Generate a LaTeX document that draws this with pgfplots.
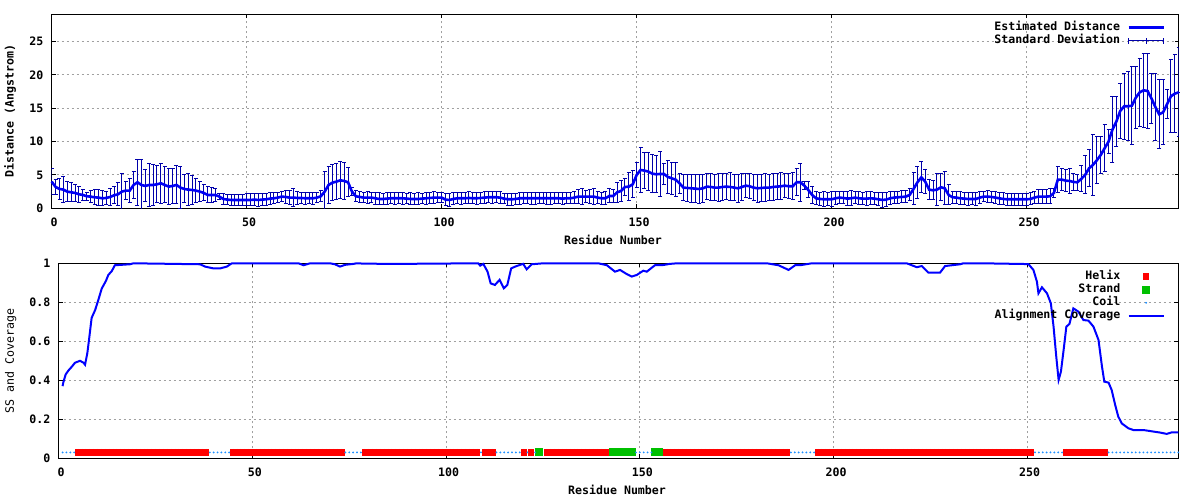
\documentclass[border=0pt]{standalone}
\usepackage{fontspec}
\setmainfont{DejaVu Sans Mono}
\usepackage{pgfplots}
\usepackage{pgfplotstable}
\pgfplotsset{compat=1.18}
\definecolor{meanblue}{RGB}{0,0,245}
\definecolor{errnavy}{RGB}{0,0,170}
\definecolor{covblue}{RGB}{0,0,255}
\definecolor{helixred}{RGB}{255,0,0}
\definecolor{strandgreen}{RGB}{0,192,0}
\definecolor{coilblue}{RGB}{30,144,255}
\definecolor{gridgray}{RGB}{160,160,160}
\newcommand{\gfont}{\bfseries\fontsize{11.6}{13}\selectfont}
\newcommand{\gfontr}{\fontsize{11.6}{13}\selectfont}

\pgfplotstableread{
x m e
0 4.0 2.0
1 3.2 1.1
2 2.9 1.6
3 2.8 1.95
4 2.5 1.5
5 2.4 1.45
6 2.3 1.3
7 2.1 1.2
8 2.0 0.8
9 1.8 0.6
10 1.75 0.85
11 1.65 1.1
12 1.6 1.15
13 1.5 1.1
14 1.55 0.95
15 1.7 1.3
16 1.95 1.3
17 2.1 1.75
18 2.5 2.75
19 2.65 1.35
20 2.65 1.85
21 3.5 2.0
22 3.9 3.45
23 3.5 3.75
24 3.35 2.4
25 3.5 3.25
26 3.5 3.1
27 3.6 2.8
28 3.75 3.0
29 3.5 2.7
30 3.25 2.65
31 3.35 2.65
32 3.5 2.85
33 3.1 3.15
34 2.9 2.1
35 2.8 2.45
36 2.75 2.15
37 2.65 1.85
38 2.5 1.5
39 2.3 1.2
40 2.0 1.2
41 2.0 1.15
42 2.0 1.0
43 1.75 0.5
44 1.4 0.85
45 1.3 0.8
46 1.25 0.85
47 1.25 0.85
48 1.25 0.85
49 1.25 0.85
50 1.25 0.9
51 1.25 0.9
52 1.3 0.85
53 1.25 0.95
54 1.3 0.9
55 1.35 0.9
56 1.45 0.9
57 1.5 0.8
58 1.6 0.8
59 1.75 0.7
60 1.7 1.0
61 1.6 1.1
62 1.6 1.3
63 1.55 1.0
64 1.55 0.8
65 1.5 0.9
66 1.5 0.8
67 1.5 0.9
68 1.6 0.8
69 1.8 0.8
70 2.5 3.0
71 3.5 2.8
72 3.85 2.65
73 4.0 2.75
74 4.2 2.8
75 4.1 2.75
76 3.9 2.2
77 2.5 0.6
78 1.8 0.8
79 1.7 0.8
80 1.6 0.8
81 1.6 0.9
82 1.6 0.8
83 1.5 0.9
84 1.4 0.9
85 1.4 0.8
86 1.45 0.9
87 1.5 0.8
88 1.5 0.9
89 1.5 0.8
90 1.5 0.9
91 1.45 0.8
92 1.4 0.9
93 1.4 0.8
94 1.4 0.9
95 1.45 0.8
96 1.5 0.9
97 1.55 0.8
98 1.6 0.9
99 1.6 0.8
100 1.6 0.8
101 1.3 0.9
102 1.25 0.95
103 1.4 0.9
104 1.5 0.8
105 1.5 0.9
106 1.5 0.85
107 1.55 0.9
108 1.5 0.8
109 1.5 0.9
110 1.55 0.85
111 1.6 0.9
112 1.65 0.8
113 1.65 0.9
114 1.65 0.8
115 1.6 0.9
116 1.45 0.8
117 1.35 0.9
118 1.35 0.9
119 1.4 0.8
120 1.5 0.9
121 1.5 0.85
122 1.5 0.8
123 1.5 0.9
124 1.5 0.9
125 1.5 0.85
126 1.5 0.8
127 1.5 0.9
128 1.5 0.9
129 1.5 0.8
130 1.5 0.85
131 1.45 0.9
132 1.5 0.8
133 1.5 0.85
134 1.6 0.9
135 1.75 1.0
136 1.75 1.15
137 1.75 0.9
138 1.75 1.0
139 1.75 1.25
140 1.6 0.9
141 1.5 0.9
142 1.5 1.0
143 1.85 1.05
144 1.85 1.0
145 2.4 1.5
146 2.6 1.6
147 3.2 1.3
148 3.25 2.1
149 3.6 2.0
150 5.0 1.85
151 5.75 3.4
152 5.65 2.75
153 5.5 2.9
154 5.2 2.9
155 5.1 2.8
156 5.15 3.35
157 5.15 1.6
158 4.7 2.45
159 4.5 2.4
160 4.3 2.6
161 3.75 1.5
162 3.1 2.0
163 3.05 2.0
164 3.0 2.1
165 2.95 2.1
166 2.9 2.2
167 3.0 2.1
168 3.25 2.0
169 3.2 2.0
170 3.1 2.0
171 3.1 2.1
172 3.2 2.0
173 3.25 2.0
174 3.2 2.1
175 3.1 2.0
176 3.0 2.1
177 3.2 2.0
178 3.4 1.8
179 3.3 1.9
180 3.1 2.0
181 3.0 2.1
182 3.05 2.0
183 3.1 2.1
184 3.1 2.0
185 3.2 2.0
186 3.25 1.9
187 3.3 2.0
188 3.4 1.8
189 3.3 1.9
190 3.3 2.0
191 3.9 2.0
192 3.9 2.85
193 3.4 0.6
194 2.75 1.2
195 2.0 1.3
196 1.5 1.0
197 1.4 1.0
198 1.35 1.1
199 1.35 1.0
200 1.35 1.1
201 1.5 1.0
202 1.6 0.9
203 1.55 0.9
204 1.45 1.0
205 1.5 1.1
206 1.6 0.9
207 1.5 1.0
208 1.45 0.9
209 1.45 1.0
210 1.5 1.0
211 1.45 0.9
212 1.35 1.0
213 1.25 1.1
214 1.3 1.0
215 1.5 1.0
216 1.6 0.9
217 1.65 0.9
218 1.7 0.9
219 1.75 0.9
220 2.0 0.9
221 2.9 2.4
222 3.9 2.4
223 4.65 2.35
224 4.0 1.85
225 2.8 1.45
226 2.7 1.4
227 2.8 2.35
228 3.15 2.0
229 3.0 2.5
230 2.0 1.5
231 1.65 0.9
232 1.6 0.9
233 1.5 1.0
234 1.45 0.9
235 1.4 1.0
236 1.4 0.9
237 1.4 1.0
238 1.6 0.9
239 1.75 0.8
240 1.75 0.9
241 1.7 0.8
242 1.6 0.9
243 1.5 0.9
244 1.4 0.9
245 1.35 0.9
246 1.35 0.9
247 1.35 0.9
248 1.35 0.9
249 1.35 0.9
250 1.35 0.9
251 1.4 0.9
252 1.6 0.9
253 1.75 1.0
254 1.75 1.0
255 1.75 1.1
256 1.8 1.1
257 2.3 0.7
258 4.3 1.9
259 4.3 1.6
260 4.15 1.7
261 4.1 1.9
262 3.95 1.3
263 3.9 1.2
264 4.4 1.95
265 5.0 2.85
266 6.0 2.75
267 6.5 4.6
268 7.2 3.5
269 8.0 2.75
270 9.0 3.5
271 10.0 1.75
272 11.8 4.95
273 13.0 3.75
274 14.6 4.15
275 15.3 4.95
276 15.3 5.2
277 15.4 5.85
278 16.6 4.65
279 17.4 5.1
280 17.7 5.55
281 17.6 5.65
282 16.5 3.75
283 15.2 5.05
284 14.1 5.15
285 14.4 4.85
286 15.6 2.15
287 16.8 5.45
288 17.2 5.8
289 17.4 6.7
}\distdata

\pgfplotstableread{
x c
1 0.37
1.2 0.39
1.8 0.43
2.5 0.45
3.4 0.47
4.2 0.49
5.5 0.50
6.4 0.49
6.8 0.48
7.4 0.54
7.9 0.62
8.5 0.72
9.4 0.76
10.2 0.81
11.1 0.87
12.2 0.91
12.8 0.94
13.7 0.96
14.5 0.99
18.4 0.995
19.3 1.0
36.5 0.995
37.8 0.983
39.9 0.974
41.7 0.974
43.4 0.983
44.7 1.0
61.9 1.0
63.2 0.99
64.9 1.0
70 1.0
71.3 0.995
72.6 0.983
73.9 0.992
76.1 0.997
76.9 1.0
79.1 0.998
88 0.997
108.3 1.0
108.8 0.988
109.6 0.997
110.7 0.957
111.5 0.897
112.6 0.889
113.8 0.915
114.9 0.872
115.8 0.889
116.8 0.974
118.2 0.986
119.9 0.997
120.8 0.969
122.1 0.995
125.1 1.0
139.3 1.0
141.5 0.99
143.6 0.957
144.9 0.966
146.6 0.945
147.9 0.932
149.2 0.94
150.9 0.962
151.8 0.957
153.9 0.99
155.7 0.99
157.8 0.997
159.6 1.0
182.8 1.0
185.8 0.99
188.4 0.966
190.1 0.99
191.4 0.99
194.4 1.0
218.9 1.0
220.2 0.99
221.5 0.98
222.8 0.986
224.5 0.952
227.5 0.952
228.8 0.986
232.7 0.995
233.5 1.0
238.3 1.0
250.3 0.996
251.6 0.966
252.5 0.906
252.9 0.846
253.8 0.877
255.1 0.846
256.1 0.795
256.8 0.675
257.5 0.521
258.1 0.402
258.7 0.444
259.4 0.556
260.1 0.675
260.9 0.689
261.9 0.769
263.2 0.752
264.5 0.709
265.8 0.706
267.1 0.675
268.4 0.607
269.3 0.470
269.9 0.393
271 0.388
271.8 0.350
272.7 0.274
273.5 0.214
274.4 0.179
276.1 0.154
277.4 0.145
280 0.145
282.6 0.137
284.3 0.132
286 0.125
287.3 0.133
289 0.133
}\covdata

\pgfplotstableread[row sep=\\]{x y\\
5 .03\\6 .03\\7 .03\\8 .03\\9 .03\\10 .03\\11 .03\\12 .03\\13 .03\\14 .03\\15 .03\\16 .03\\17 .03\\18 .03\\19 .03\\20 .03\\21 .03\\
22 .03\\23 .03\\24 .03\\25 .03\\26 .03\\27 .03\\28 .03\\29 .03\\30 .03\\31 .03\\32 .03\\33 .03\\34 .03\\35 .03\\36 .03\\37 .03\\38 .03\\
45 .03\\46 .03\\47 .03\\48 .03\\49 .03\\50 .03\\51 .03\\52 .03\\53 .03\\54 .03\\55 .03\\56 .03\\57 .03\\58 .03\\59 .03\\
60 .03\\61 .03\\62 .03\\63 .03\\64 .03\\65 .03\\66 .03\\67 .03\\68 .03\\69 .03\\70 .03\\71 .03\\72 .03\\73 .03\\
79 .03\\80 .03\\81 .03\\82 .03\\83 .03\\84 .03\\85 .03\\86 .03\\87 .03\\88 .03\\89 .03\\90 .03\\91 .03\\92 .03\\93 .03\\
94 .03\\95 .03\\96 .03\\97 .03\\98 .03\\99 .03\\100 .03\\101 .03\\102 .03\\103 .03\\104 .03\\105 .03\\106 .03\\107 .03\\108 .03\\
110 .03\\111 .03\\112 .03\\120 .03\\122 .03\\
126 .03\\127 .03\\128 .03\\129 .03\\130 .03\\131 .03\\132 .03\\133 .03\\134 .03\\135 .03\\136 .03\\137 .03\\138 .03\\139 .03\\140 .03\\141 .03\\142 .03\\
156 .03\\157 .03\\158 .03\\159 .03\\160 .03\\161 .03\\162 .03\\163 .03\\164 .03\\165 .03\\166 .03\\167 .03\\168 .03\\169 .03\\170 .03\\171 .03\\172 .03\\
173 .03\\174 .03\\175 .03\\176 .03\\177 .03\\178 .03\\179 .03\\180 .03\\181 .03\\182 .03\\183 .03\\184 .03\\185 .03\\186 .03\\187 .03\\188 .03\\
196 .03\\197 .03\\198 .03\\199 .03\\200 .03\\201 .03\\202 .03\\203 .03\\204 .03\\205 .03\\206 .03\\207 .03\\208 .03\\209 .03\\210 .03\\
211 .03\\212 .03\\213 .03\\214 .03\\215 .03\\216 .03\\217 .03\\218 .03\\219 .03\\220 .03\\221 .03\\222 .03\\223 .03\\224 .03\\225 .03\\
226 .03\\227 .03\\228 .03\\229 .03\\230 .03\\231 .03\\232 .03\\233 .03\\234 .03\\235 .03\\236 .03\\237 .03\\238 .03\\239 .03\\240 .03\\
241 .03\\242 .03\\243 .03\\244 .03\\245 .03\\246 .03\\247 .03\\248 .03\\249 .03\\250 .03\\251 .03\\
260 .03\\261 .03\\262 .03\\263 .03\\264 .03\\265 .03\\266 .03\\267 .03\\268 .03\\269 .03\\270 .03\\
}\helixdata

\pgfplotstableread[row sep=\\]{x y\\
124 .03\\143 .03\\144 .03\\145 .03\\146 .03\\147 .03\\148 .03\\154 .03\\155 .03\\
}\stranddata

\pgfplotstableread[row sep=\\]{x y\\
1 .03\\2 .03\\3 .03\\4 .03\\39 .03\\40 .03\\41 .03\\42 .03\\43 .03\\44 .03\\
74 .03\\75 .03\\76 .03\\77 .03\\78 .03\\109 .03\\113 .03\\114 .03\\115 .03\\116 .03\\117 .03\\118 .03\\119 .03\\121 .03\\123 .03\\
149 .03\\150 .03\\151 .03\\152 .03\\153 .03\\189 .03\\190 .03\\191 .03\\192 .03\\193 .03\\194 .03\\195 .03\\
252 .03\\253 .03\\254 .03\\255 .03\\256 .03\\257 .03\\258 .03\\259 .03\\
271 .03\\272 .03\\273 .03\\274 .03\\275 .03\\276 .03\\277 .03\\278 .03\\279 .03\\280 .03\\
281 .03\\282 .03\\283 .03\\284 .03\\285 .03\\286 .03\\287 .03\\288 .03\\289 .03\\
}\coildata

\pgfplotsset{
  gnustyle/.style={
    scale only axis,
    axis line style={black, line width=1pt},
    tick align=inside,
    major tick length=4pt,
    every tick/.style={black, line width=1pt},
    grid=major,
    major grid style={gridgray, line width=1pt, dash pattern=on 2pt off 3pt},
    /pgf/number format/assume math mode=true,
    tick label style={font=\gfont, inner sep=0pt},
    xticklabel style={anchor=base, yshift=-18pt, xshift=2.5pt},
    yticklabel style={anchor=base east, xshift=-8.2pt, yshift=-4.3pt},
    label style={font=\gfont},
    legend style={draw=none, fill=none, font=\gfont,
      at={(rel axis cs:1,1)}, anchor=north east, xshift=-13.7pt, yshift=-7pt,
      inner sep=0pt, outer sep=0pt, row sep=0pt, column sep=7.3pt,
      nodes={inner sep=0pt, text height=9pt, text depth=4pt}},
    legend cell align=right,
    legend plot pos=right,
  },
  linelegend/.style={legend image code/.code={\draw[##1, mark=none] (0pt,0pt) -- (35pt,0pt);}},
  marklegend/.style={legend image code/.code={\path[draw=none, fill=none] (0pt,0pt) -- (35pt,0pt); \draw[##1, only marks] plot coordinates {(17.5pt,0pt)};}},
}

\begin{document}
\begin{tikzpicture}
\path[draw=none, fill=none] (0pt,0pt) rectangle (1200pt,500pt);
\coordinate (topSW) at (51.7pt,291.7pt);
\coordinate (botSW) at (58.7pt,41.7pt);

\begin{axis}[gnustyle,
  at={(topSW)}, anchor=south west,
  width=1127pt, height=194pt,
  xmin=0, xmax=289, ymin=0, ymax=29.1,
  xtick={0,50,100,150,200,250}, ytick={0,5,10,15,20,25},
  xlabel={Residue Number}, ylabel={Distance (Angstrom)},
  xlabel style={at={(axis description cs:0.498,-0.163)}, anchor=center},
  ylabel style={at={(axis description cs:-0.037,0.5)}, anchor=center},
  reverse legend, set layers,
  every error bar/.style={color=errnavy, line width=1pt},
]
\addplot[color=errnavy, line width=1pt, only marks, mark=-, mark size=1pt,
  mark options={color=errnavy, line width=1pt},
  error bars/.cd, y dir=both, y explicit, error mark=-,
  error bar style={color=errnavy, line width=1pt},
  error mark options={rotate=90, color=errnavy, mark size=2pt, line width=1pt},
  /pgfplots/legend image code/.code={\draw[errnavy, line width=1pt] (0pt,0pt) -- (35pt,0pt) (0pt,-3pt) -- (0pt,3pt) (17.5pt,-3pt) -- (17.5pt,3pt) (35pt,-3pt) -- (35pt,3pt);}]
  table[x=x, y=m, y error=e]{\distdata};
\addlegendentry{Standard Deviation}
\addplot[meanblue, line width=2.6pt, linelegend, on layer=axis foreground] table[x=x, y=m]{\distdata};
\addlegendentry{Estimated Distance}
\end{axis}

\begin{axis}[gnustyle,
  at={(botSW)}, anchor=south west,
  width=1119.6pt, height=195pt,
  xmin=0, xmax=289, ymin=0, ymax=1, clip=false,
  xtick={0,50,100,150,200,250}, ytick={0,0.2,0.4,0.6,0.8,1},
  xlabel={Residue Number}, ylabel={SS and Coverage},
  xlabel style={at={(axis description cs:0.4987,-0.1626)}, anchor=center},
  ylabel style={at={(axis description cs:-0.0429,0.5)}, anchor=center, font=\gfontr},
]
\addplot[only marks, mark=square*, mark size=2.5pt, helixred,
  mark options={yscale=1.15, draw=helixred, fill=helixred, line width=0pt}, marklegend]
  table[x=x, y=y]{\helixdata};
\addlegendentry{Helix}
\addplot[only marks, mark=|, mark size=3.6pt, mark options={helixred, line width=0.8pt}, forget plot]
  table[x=x, y=y]{\helixdata};
\addplot[only marks, mark=square*, mark size=3.5pt, strandgreen,
  mark options={draw=strandgreen, fill=strandgreen, line width=0pt}, marklegend]
  table[x=x, y=y]{\stranddata};
\addlegendentry{Strand}
\addplot[only marks, mark=*, mark size=0.7pt, coilblue,
  mark options={draw=coilblue, fill=coilblue}, marklegend]
  table[x=x, y=y]{\coildata};
\addlegendentry{Coil}
\addplot[covblue, line width=2pt, linelegend] table[x=x, y=c]{\covdata};
\addlegendentry{Alignment Coverage}
\end{axis}
\end{tikzpicture}
\end{document}
